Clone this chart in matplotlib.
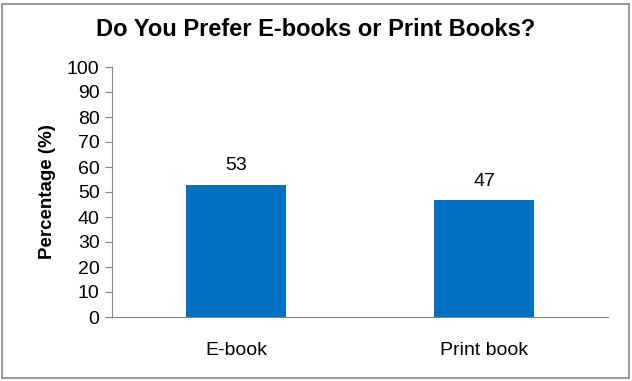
import matplotlib.pyplot as plt
from matplotlib.patches import Rectangle

categories = ['E-book', 'Print book']
values = [53, 47]
yticks = list(range(0, 101, 10))

plt.rcParams['font.family'] = ['Liberation Sans', 'DejaVu Sans']

fig = plt.figure(figsize=(6.32, 3.81), dpi=100)
ax = fig.add_axes([112 / 632, 1 - 317 / 381, 496 / 632, 250 / 381])

x = range(len(categories))
bars = ax.bar(x, values, width=0.4, color='#0070C0')
for b, v in zip(bars, values):
    ax.text(b.get_x() + b.get_width() / 2, v + 4, str(v), ha='center', va='bottom', fontsize=14)

ax.set_xlim(-0.5, 1.5)
ax.set_ylim(0, 100)
ax.set_yticks(yticks)
ax.set_xticks(list(x))
ax.set_xticklabels(categories, fontsize=14)
ax.tick_params(axis='x', length=0, pad=18)
ax.tick_params(axis='y', labelsize=14, length=5, color='#868686', pad=4)
for s in ['top', 'right']:
    ax.spines[s].set_visible(False)
for s in ['left', 'bottom']:
    ax.spines[s].set_color('#868686')
ax.set_ylabel('Percentage (%)', fontsize=13.5, fontweight='bold', labelpad=8)

fig.text(0.5, 1 - 30 / 381, 'Do You Prefer E-books or Print Books?', ha='center', va='center',
         fontsize=17, fontweight='bold')
fig.patches.append(Rectangle((2 / 632, 3 / 381), 627 / 632, 374 / 381, transform=fig.transFigure,
                             fill=False, edgecolor='#868686', linewidth=1.2))

fig.savefig('out.png', dpi=100)
